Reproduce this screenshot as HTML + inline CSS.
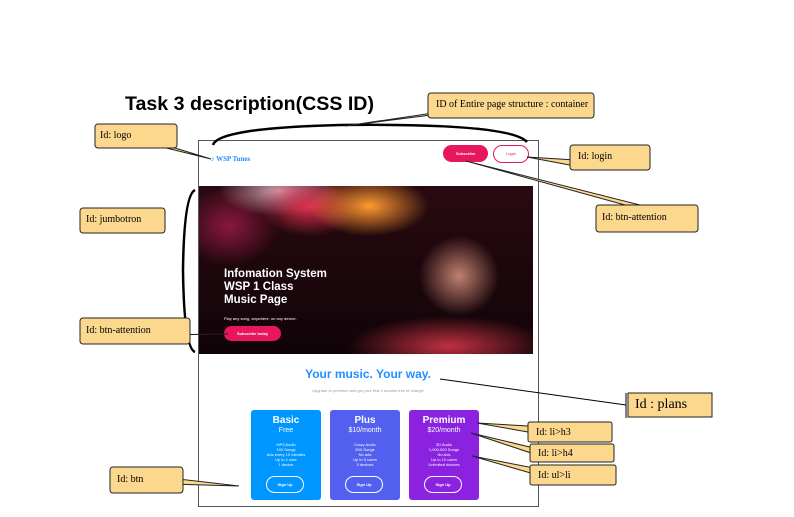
<!DOCTYPE html>
<html><head><meta charset="utf-8"><style>
body{margin:0;width:794px;height:517px;background:#fff;position:relative;overflow:hidden;font-family:"Liberation Sans",sans-serif}
.a{position:absolute}
.ser{font-family:"Liberation Serif",serif;font-size:10px;color:#000}
.card{position:absolute;top:410px;width:70px;height:90px;border-radius:3px;color:#fff;text-align:center}
.card h3{margin:5px 0 0;font-size:10px;font-weight:bold}
.card h4{margin:1px 0 0;font-size:7px;font-weight:normal}
.card ul{list-style:none;margin:8px 0 0;padding:0;font-size:4px;line-height:5px}
.card .b{position:absolute;left:15px;top:66px;width:36px;height:15px;border:1px solid #fff;border-radius:9px;font-size:4px;line-height:15px;font-weight:bold}
</style></head><body>
<div class="a" style="left:125px;top:93px;font-size:19.6px;font-weight:bold">Task 3 description(CSS ID)</div>
<div class="a" style="left:198px;top:140px;width:339px;height:365px;border:1px solid #555"></div>
<div class="a" style="left:211px;top:155px;font-family:'Liberation Serif',serif;font-size:7px;font-weight:bold;color:#1e90ff">♪ WSP Tunes</div>
<div class="a" style="left:443px;top:145px;width:45px;height:17px;background:#e8175d;border-radius:9px;color:#fff;font-size:4px;text-align:center;line-height:17px;font-weight:bold">Subscribe</div>
<div class="a" style="left:493px;top:145px;width:34px;height:16px;border:1px solid #e8175d;border-radius:9px;color:#e8175d;font-size:4px;text-align:center;line-height:16px">Login</div>
<div class="a" style="left:199px;top:186px;width:334px;height:168px;overflow:hidden;background:radial-gradient(ellipse 60px 30px at 170px 20px,#ff9a30,transparent),radial-gradient(ellipse 50px 30px at 110px 20px,#e03050,transparent),radial-gradient(ellipse 60px 25px at 80px 5px,#d0a0b0,transparent),radial-gradient(ellipse 50px 40px at 30px 40px,#8a1840,transparent),radial-gradient(ellipse 100px 30px at 250px 160px,#c03040,transparent),radial-gradient(ellipse 40px 40px at 260px 90px,#c08070,transparent),linear-gradient(#2a0a10,#100408)">
<div class="a" style="left:25px;top:82px;color:#fff;font-size:11.5px;font-weight:bold;line-height:13px">Infomation System<br>WSP 1 Class<br>Music Page</div>
<div class="a" style="left:25px;top:130px;color:#fff;font-size:4px">Play any song, anywhere, on any device.</div>
<div class="a" style="left:25px;top:140px;width:57px;height:15px;background:#e8175d;border-radius:8px;color:#fff;font-size:4px;text-align:center;line-height:15px;font-weight:bold">Subscribe today</div>
</div>
<div class="a" style="left:198px;top:367px;width:340px;text-align:center;font-size:12px;font-weight:bold;color:#1e90ff">Your music. Your way.</div>
<div class="a" style="left:198px;top:388px;width:340px;text-align:center;font-size:4px;color:#999">Upgrade to premium and get your first 3 months free of charge!</div>
<div class="card" style="left:251px;background:#0096ff"><h3>Basic</h3><h4>Free</h4><ul><li>MP3 Audio</li><li>100 Songs</li><li>Ads every 10 minutes</li><li>Up to 1 user</li><li>1 device</li></ul><div class="b">Sign Up</div></div>
<div class="card" style="left:330px;background:#5360ef"><h3>Plus</h3><h4>$10/month</h4><ul><li>Crazy Audio</li><li>500 Songs</li><li>No ads</li><li>Up to 5 users</li><li>3 devices</li></ul><div class="b">Sign Up</div></div>
<div class="card" style="left:409px;background:#8a22e0"><h3>Premium</h3><h4>$20/month</h4><ul><li>3D Audio</li><li>1,000,000 Songs</li><li>No Ads</li><li>Up to 10 users</li><li>Unlimited devices</li></ul><div class="b">Sign Up</div></div>
<svg class="a" style="left:0;top:0" width="794" height="517">
<g fill="none" stroke="#000" stroke-width="2.5">
<path d="M213 145 Q218 128 340 125 Q510 123 527 142"/>
<path d="M195 190 Q184 195 183 270 Q184 348 195 352"/>
</g>
<g stroke="#000" stroke-width="1"><line x1="440" y1="379" x2="626" y2="405"/><line x1="626" y1="393" x2="626" y2="418"/></g>
<g fill="#fbd88e" stroke="#222" stroke-width="1">
<polygon points="440,112 455,112 345,126"/>
<polygon points="150,144 162,144 211,159"/>
<polygon points="575,160 575,166 527,157"/>
<polygon points="625,205 640,205 466,161"/>
<polygon points="150,335 162,335 228,334"/>
<polygon points="528,426 528,432 477,423"/>
<polygon points="534,448 534,454 471,433"/>
<polygon points="534,468 534,474 472,456"/>
<polygon points="170,478 170,484 239,486"/>
<rect x="428" y="93" width="166" height="25" rx="3"/>
<rect x="95" y="124" width="82" height="24" rx="3"/>
<rect x="570" y="145" width="80" height="25" rx="3"/>
<rect x="596" y="205" width="102" height="27" rx="3"/>
<rect x="80" y="208" width="85" height="25" rx="3"/>
<rect x="80" y="318" width="110" height="26" rx="3"/>
<rect x="628" y="393" width="84" height="24"/>
<rect x="528" y="422" width="84" height="20" rx="2"/>
<rect x="530" y="444" width="84" height="18" rx="2"/>
<rect x="530" y="465" width="86" height="20" rx="2"/>
<rect x="110" y="467" width="73" height="26" rx="3"/>
</g>
</svg>
<div class="a ser" style="left:436px;top:99px">ID of Entire page structure : container</div>
<div class="a ser" style="left:100px;top:130px">Id: logo</div>
<div class="a ser" style="left:578px;top:151px">Id: login</div>
<div class="a ser" style="left:602px;top:212px">Id: btn-attention</div>
<div class="a ser" style="left:86px;top:214px">Id: jumbotron</div>
<div class="a ser" style="left:86px;top:325px">Id: btn-attention</div>
<div class="a ser" style="left:635px;top:397px;font-size:14px">Id : plans</div>
<div class="a ser" style="left:536px;top:427px">Id: li&gt;h3</div>
<div class="a ser" style="left:538px;top:448px">Id: li&gt;h4</div>
<div class="a ser" style="left:538px;top:470px">Id: ul&gt;li</div>
<div class="a ser" style="left:117px;top:474px">Id: btn</div>
</body></html>
